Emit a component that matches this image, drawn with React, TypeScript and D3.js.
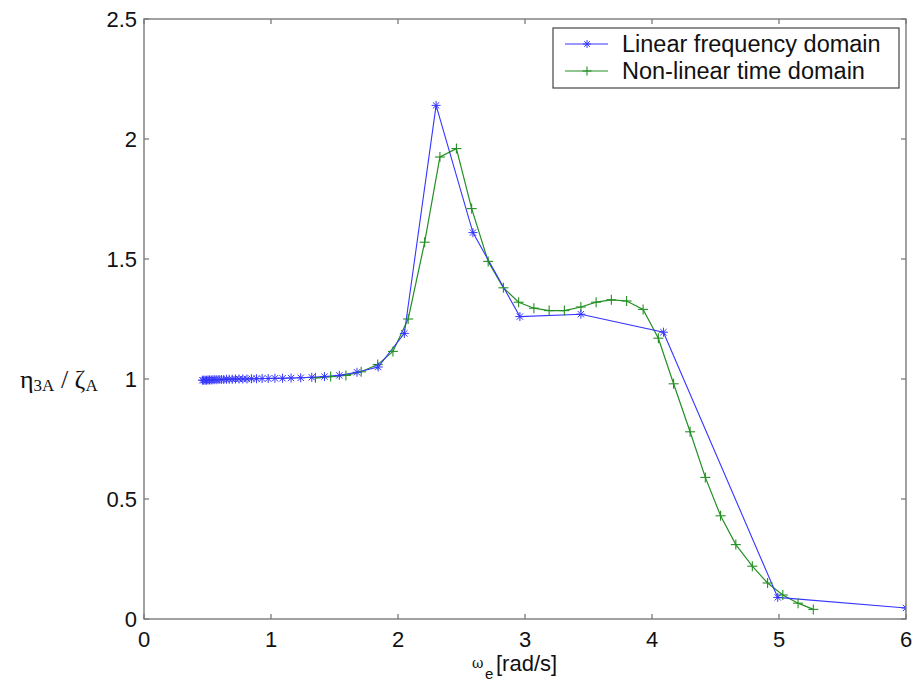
import React from "react";
import * as d3 from "d3";

const linearOmega = [
  0.460, 0.470, 0.481, 0.492, 0.504, 0.516, 0.529, 0.543, 0.558, 0.574,
  0.591, 0.609, 0.628, 0.649, 0.671, 0.695, 0.720, 0.748, 0.778, 0.811,
  0.847, 0.886, 0.930, 0.978, 1.031, 1.091, 1.158, 1.234, 1.321, 1.421,
  1.538, 1.677, 1.844, 2.05, 2.30, 2.59, 2.96, 3.44, 4.09, 4.99, 6.0,
];
const linearRao = [
  0.995, 0.995, 0.995, 0.995, 0.996, 0.996, 0.996, 0.997, 0.997, 0.997,
  0.998, 0.998, 0.998, 0.999, 0.999, 0.999, 1.0, 1.0, 1.0, 1.0,
  1.001, 1.001, 1.002, 1.002, 1.003, 1.003, 1.004, 1.005, 1.007, 1.01,
  1.015, 1.028, 1.05, 1.19, 2.14, 1.61, 1.26, 1.27, 1.195, 0.09, 0.046,
];

const nonlinOmega = [
  1.35, 1.47, 1.59, 1.71, 1.84, 1.96, 2.08, 2.21, 2.33, 2.46, 2.58,
  2.71, 2.83, 2.95, 3.07, 3.19, 3.31, 3.44, 3.56, 3.68, 3.80, 3.93,
  4.05, 4.17, 4.30, 4.42, 4.54, 4.66, 4.79, 4.91, 5.03, 5.15, 5.27,
];
const nonlinRao = [
  1.005, 1.01, 1.015, 1.03, 1.06, 1.115, 1.25, 1.57, 1.925, 1.96, 1.71,
  1.49, 1.38, 1.32, 1.295, 1.285, 1.285, 1.30, 1.32, 1.33, 1.325, 1.29,
  1.17, 0.98, 0.78, 0.59, 0.43, 0.31, 0.22, 0.15, 0.10, 0.066, 0.04,
];

const xTicks = [0, 1, 2, 3, 4, 5, 6];
const yTicks = [0, 0.5, 1, 1.5, 2, 2.5];
const yTickLabels = ["0", "0.5", "1", "1.5", "2", "2.5"];
const legendLabels = ["Linear frequency domain", "Non-linear time domain"];

const BLUE = "#3535ff";
const GREEN = "#238f23";
const AXIS = "#7a7a7a";
const FONT = "'Liberation Sans', Arial, Helvetica, sans-serif";

const Asterisk = ({ x, y, r, color }: any) => (
  <g stroke={color} strokeWidth={1}>
    <line x1={x - r} y1={y} x2={x + r} y2={y} />
    <line x1={x} y1={y - r} x2={x} y2={y + r} />
    <line x1={x - r * 0.7} y1={y - r * 0.7} x2={x + r * 0.7} y2={y + r * 0.7} />
    <line x1={x - r * 0.7} y1={y + r * 0.7} x2={x + r * 0.7} y2={y - r * 0.7} />
  </g>
);

const Plus = ({ x, y, r, color }: any) => (
  <g stroke={color} strokeWidth={1.1}>
    <line x1={x - r} y1={y} x2={x + r} y2={y} />
    <line x1={x} y1={y - r} x2={x} y2={y + r} />
  </g>
);

export default function App() {
  const W = 917, H = 689;
  const left = 144, right = 906, top = 19, bottom = 619;
  const x = d3.scaleLinear().domain([0, 6]).range([left, right]);
  const y = d3.scaleLinear().domain([0, 2.5]).range([bottom, top]);

  const blue = linearOmega.map((w, i) => [w, linearRao[i]] as [number, number]);
  const green = nonlinOmega.map((w, i) => [w, nonlinRao[i]] as [number, number]);
  const line = d3.line<[number, number]>().x(d => x(d[0])).y(d => y(d[1]));

  const tl = 5;

  return (
    <svg width={W} height={H} style={{ position: "absolute", left: 0, top: 0, background: "#fff" }}>
      <rect x={0} y={0} width={W} height={H} fill="#fff" />
      <defs>
        <clipPath id="plotclip">
          <rect x={left} y={top} width={right - left} height={bottom - top} />
        </clipPath>
      </defs>

      {/* ticks */}
      {xTicks.map(t => (
        <g key={"xt" + t} stroke={AXIS} strokeWidth={1.3}>
          <line x1={x(t)} y1={bottom} x2={x(t)} y2={bottom - tl} />
          <line x1={x(t)} y1={top} x2={x(t)} y2={top + tl} />
        </g>
      ))}
      {yTicks.map(t => (
        <g key={"yt" + t} stroke={AXIS} strokeWidth={1.3}>
          <line x1={left} y1={y(t)} x2={left + tl} y2={y(t)} />
          <line x1={right} y1={y(t)} x2={right - tl} y2={y(t)} />
        </g>
      ))}

      {/* data */}
      <g clipPath="url(#plotclip)">
        <path d={line(green) || ""} fill="none" stroke={GREEN} strokeWidth={1.2} />
        <path d={line(blue) || ""} fill="none" stroke={BLUE} strokeWidth={1.1} />
        {green.map((d, i) => (
          <Plus key={"g" + i} x={x(d[0])} y={y(d[1])} r={5} color={GREEN} />
        ))}
        {blue.map((d, i) => (
          <Asterisk key={"b" + i} x={x(d[0])} y={y(d[1])} r={4.5} color={BLUE} />
        ))}
      </g>

      {/* frame */}
      <rect x={left} y={top} width={right - left} height={bottom - top} fill="none" stroke={AXIS} strokeWidth={1.4} />

      {/* tick labels */}
      {xTicks.map(t => (
        <text key={"xl" + t} x={x(t)} y={647} textAnchor="middle" fontFamily={FONT} fontSize={22} fill="#111">
          {t}
        </text>
      ))}
      {yTicks.map((t, i) => (
        <text key={"yl" + t} x={137} y={y(t) + 8} textAnchor="end" fontFamily={FONT} fontSize={22} fill="#111">
          {yTickLabels[i]}
        </text>
      ))}

      {/* axis labels */}
      <text x={472} y={668} fontFamily="'DejaVu Serif', serif" fontSize={14} fill="#111">ω</text>
      <text x={485} y={679} fontFamily={FONT} fontSize={15} fill="#111">e</text>
      <text x={496} y={671} fontFamily={FONT} fontSize={22} fill="#111">[rad/s]</text>
      <text x={20} y={388} fontFamily="'Liberation Serif', 'Times New Roman', serif" fontSize={26} fill="#111">
        <tspan>η</tspan>
        <tspan fontSize={17} dy={3}>3A</tspan>
        <tspan dy={-3}> / ζ</tspan>
        <tspan fontSize={17} dy={3}>A</tspan>
      </text>

      {/* legend */}
      <rect x={553} y={28} width={346} height={60} fill="#fff" stroke="#444" strokeWidth={1.2} />
      <line x1={565} y1={44} x2={608} y2={44} stroke={BLUE} strokeWidth={1.1} />
      <Asterisk x={587} y={44} r={4} color={BLUE} />
      <text x={622} y={52} fontFamily={FONT} fontSize={23.5} fill="#111">{legendLabels[0]}</text>
      <line x1={565} y1={71} x2={608} y2={71} stroke={GREEN} strokeWidth={1.1} />
      <Plus x={587} y={71} r={4.5} color={GREEN} />
      <text x={622} y={79} fontFamily={FONT} fontSize={23.5} fill="#111">{legendLabels[1]}</text>
    </svg>
  );
}
